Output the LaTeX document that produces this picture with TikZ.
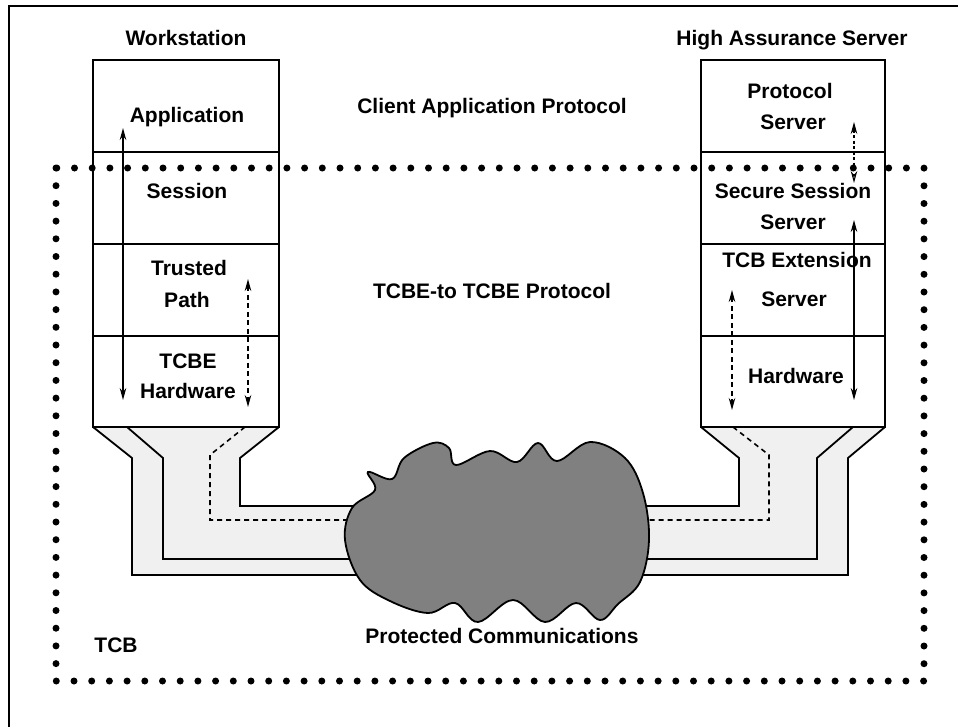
\documentclass[tikz,border=0pt]{standalone}
\usepackage{fontspec}
\setmainfont{Liberation Sans}
\usetikzlibrary{arrows.meta}
\definecolor{pipegray}{HTML}{F0F0F0}
\definecolor{cloudgray}{HTML}{808080}
\begin{document}
\begin{tikzpicture}[x=1pt,y=-1pt,
  lbl/.style={font=\bfseries\fontsize{21}{25}\selectfont, anchor=base, inner sep=0pt},
  layer/.style={draw, line width=1.8pt},
  pipeline/.style={line width=1.8pt, line join=miter},
  pipedash/.style={line width=1.6pt, dash pattern=on 5pt off 4pt},
  arr/.style={line width=1.4pt},
  bothf/.style={arr, {Stealth[length=12pt,width=6.5pt]}-{Stealth[length=12pt,width=6.5pt]}},
  fopen/.style={arr, {Stealth[length=12pt,width=6.5pt]}-{Stealth[length=12pt,width=6.5pt,open]}}
]
\useasboundingbox (0,0) rectangle (958,726);
% outer frame
\draw[line width=1.3pt] (9,6) rectangle (980,750);

% pipes fill
\fill[pipegray] (93,427) -- (132,458) -- (132,575) -- (400,575) -- (400,506) -- (240,506) -- (240,458) -- (279,427) -- cycle;
\fill[pipegray] (885,427) -- (848,458) -- (848,575) -- (600,575) -- (600,506) -- (739,506) -- (739,458) -- (701,427) -- cycle;
% left pipe lines
\draw[pipeline] (93,427) -- (132,458) -- (132,575) -- (400,575);
\draw[pipeline] (127,427) -- (163,458) -- (163,559) -- (400,559);
\draw[pipeline] (279,427) -- (240,458) -- (240,506) -- (400,506);
\draw[pipedash] (245,427) -- (210,455) -- (210,520) -- (400,520);
% right pipe lines
\draw[pipeline] (885,427) -- (848,458) -- (848,575) -- (600,575);
\draw[pipeline] (853,427) -- (817,458) -- (817,559) -- (600,559);
\draw[pipeline] (701,427) -- (739,458) -- (739,506) -- (600,506);
\draw[pipedash] (733,427) -- (769,455) -- (769,520) -- (600,520);

% cloud
\draw[line width=1.8pt, fill=cloudgray] plot[smooth cycle, tension=0.6] coordinates {
 (345,540) (352,508) (375,490) (368,472) (392,479) (404,458) (433,443) (449,448)
 (456,465) (490,451) (517,462) (538,443) (557,461) (590,442) (625,458) (643,493)
 (649,540) (640,582) (618,604) (600,620) (576,603) (545,622) (513,600) (478,622)
 (455,603) (428,613) (390,601) (360,580)};

% stacks
\draw[layer, fill=white] (93,60) rectangle (279,427);
\draw[layer] (93,152) -- (279,152) (93,244) -- (279,244) (93,336) -- (279,336);
\draw[layer, fill=white] (701,60) rectangle (885,427);
\draw[layer] (701,152) -- (885,152) (701,244) -- (885,244) (701,336) -- (885,336);

% labels
\node[lbl] (ws) at (186,45) {Workstation};
\node[lbl] (has) at (792,45) {High Assurance Server};
\node[lbl] (cap) at (492,113) {Client Application Protocol};
\node[lbl] (tcbep) at (492,298) {TCBE-to TCBE Protocol};
\node[lbl] (pc) at (502,643) {Protected Communications};
\node[lbl] (tcb) at (116,652) {TCB};

\node[lbl] (app) at (187,122) {Application};
\node[lbl] (sess) at (187,198) {Session};
\node[lbl] (tp1) at (189,275) {Trusted};
\node[lbl] (tp2) at (187,307) {Path};
\node[lbl] (th1) at (188,368) {TCBE};
\node[lbl] (th2) at (188,398) {Hardware};

\node[lbl] (ps1) at (790,98) {Protocol};
\node[lbl] (ps2) at (793,129) {Server};
\node[lbl] (ss1) at (793,198) {Secure Session};
\node[lbl] (ss2) at (793,229) {Server};
\node[lbl] (te1) at (797,267) {TCB Extension};
\node[lbl] (te2) at (794,306) {Server};
\node[lbl] (hw) at (796,383) {Hardware};

% arrow ends
\coordinate (la1) at (123,128);
\coordinate (la2) at (123,400);
\coordinate (lb1) at (248,279);
\coordinate (lb2) at (248,407);
\coordinate (ra1) at (854,122);
\coordinate (ra2) at (854,183);
\coordinate (rb1) at (854,220);
\coordinate (rb2) at (854,400);
\coordinate (rc1) at (732,290);
\coordinate (rc2) at (732,410);

\draw[bothf] (la1) -- (la2);
\draw[fopen, dash pattern=on 5pt off 3.5pt] (lb1) -- (lb2);
\draw[fopen, dash pattern=on 3pt off 2.5pt, line width=1.1pt] (ra1) -- (ra2);
\draw[bothf] (rb1) -- (rb2);
\draw[fopen, dash pattern=on 5pt off 3.5pt] (rc1) -- (rc2);

% TCB dotted boundary
\draw[line width=7pt, dash pattern=on 0pt off 17.7pt, line cap=round] (56,168) rectangle (924,681);
\end{tikzpicture}
\end{document}
